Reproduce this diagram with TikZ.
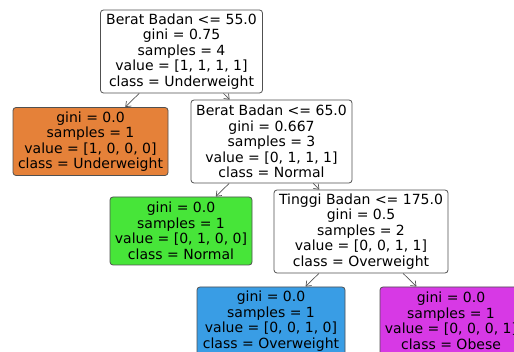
\documentclass[tikz,border=0pt]{standalone}
\usepackage{fontspec}
\setmainfont{DejaVu Sans}
\usetikzlibrary{arrows.meta}
\definecolor{edgegray}{HTML}{555555}
\definecolor{boxline}{HTML}{505050}
\definecolor{cunder}{HTML}{E58139}
\definecolor{cnormal}{HTML}{47E539}
\definecolor{cover}{HTML}{399DE5}
\definecolor{cobese}{HTML}{D739E5}
\begin{document}
\begin{tikzpicture}[x=1pt,y=-1pt,
  treenode/.style={draw=boxline, line width=0.8pt, rounded corners=3pt,
    align=center, inner sep=0pt, text=black,
    font=\fontsize{14}{15.5}\selectfont},
  split/.style={treenode, minimum height=83pt},
  leaf/.style={treenode, minimum height=68pt},
  link/.style={draw=edgegray, line width=0.7pt,
    -{Straight Barb[length=4.5pt,width=7pt]}}]
\useasboundingbox (0,0) rectangle (514,352);
\fill[white] (0,0) rectangle (514,352);

% decision nodes
\node[split, minimum width=162pt] (root) at (181.5,51.5)
  {Berat Badan <= 55.0\\gini = 0.75\\samples = 4\\value = [1, 1, 1, 1]\\class = Underweight};
\node[split, minimum width=161pt] (bb65) at (271.5,141.5)
  {Berat Badan <= 65.0\\gini = 0.667\\samples = 3\\value = [0, 1, 1, 1]\\class = Normal};
\node[split, minimum width=174pt] (tb175) at (361,231.5)
  {Tinggi Badan <= 175.0\\gini = 0.5\\samples = 2\\value = [0, 0, 1, 1]\\class = Overweight};

% leaves
\node[leaf, fill=cunder, minimum width=155pt] (under) at (90.5,141.5)
  {gini = 0.0\\samples = 1\\value = [1, 0, 0, 0]\\class = Underweight};
\node[leaf, fill=cnormal, minimum width=142pt] (normal) at (181,231)
  {gini = 0.0\\samples = 1\\value = [0, 1, 0, 0]\\class = Normal};
\node[leaf, fill=cover, minimum width=148pt] (over) at (271,321)
  {gini = 0.0\\samples = 1\\value = [0, 0, 1, 0]\\class = Overweight};
\node[leaf, fill=cobese, minimum width=142pt] (obese) at (451,321)
  {gini = 0.0\\samples = 1\\value = [0, 0, 0, 1]\\class = Obese};

% connectors
\draw[link] (root) -- (under);
\draw[link] (root) -- (bb65);
\draw[link] (bb65) -- (normal);
\draw[link] (bb65) -- (tb175);
\draw[link] (tb175) -- (over);
\draw[link] (tb175) -- (obese);
\end{tikzpicture}
\end{document}
